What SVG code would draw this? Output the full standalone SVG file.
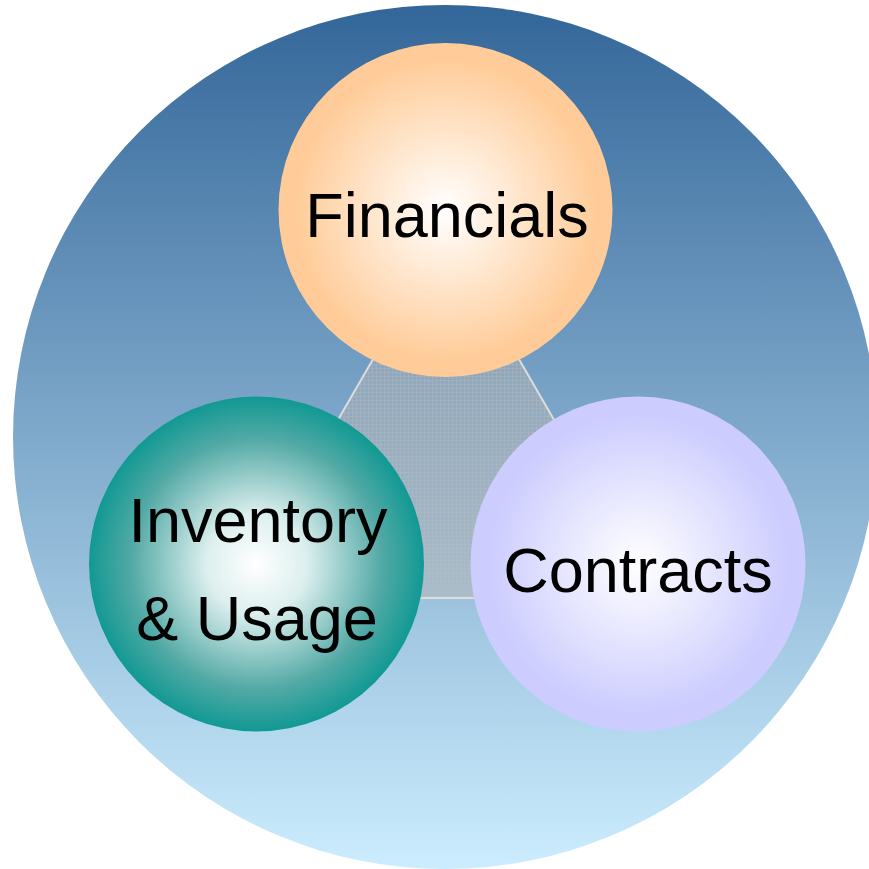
<svg xmlns="http://www.w3.org/2000/svg" width="869" height="869" viewBox="0 0 869 869">
  <defs>
    <linearGradient id="bg" x1="0" y1="0" x2="0" y2="1">
      <stop offset="0" stop-color="#336699"/>
      <stop offset="1" stop-color="#ccedfe"/>
    </linearGradient>
    <radialGradient id="gFin" cx="0.5" cy="0.5" r="0.5">
      <stop offset="0" stop-color="#ffffff"/>
      <stop offset="0.9" stop-color="#ffcc99"/>
    </radialGradient>
    <radialGradient id="gInv" cx="0.5" cy="0.5" r="0.5">
      <stop offset="0" stop-color="#ffffff"/>
      <stop offset="0.3" stop-color="#dcefee"/>
      <stop offset="0.75" stop-color="#52a9a5"/>
      <stop offset="1" stop-color="#119993"/>
    </radialGradient>
    <radialGradient id="gCon" cx="0.5" cy="0.5" r="0.5">
      <stop offset="0" stop-color="#ffffff"/>
      <stop offset="0.9" stop-color="#ccccff"/>
    </radialGradient>
    <pattern id="grid" width="8" height="8" patternUnits="userSpaceOnUse">
      <rect width="8" height="8" fill="#b4b4b4" fill-opacity="0.4"/>
      <path d="M0 0.5H8M0.5 0V8M0 4.5H8M4.5 0V8" stroke="#c8b8b0" stroke-opacity="0.55" stroke-width="0.6" fill="none"/>
    </pattern>
    <style>
      .lbl { font-family: "Liberation Sans", Arial, sans-serif; font-size: 63px; fill: #000; text-anchor: middle; }
    </style>
  </defs>
  <rect width="869" height="869" fill="#ffffff"/>
  <g id="background">
    <circle cx="445" cy="437" r="432" fill="url(#bg)"/>
  </g>
  <g id="connectors">
    <polygon points="446,233 235,598 657,598" fill="url(#grid)" stroke="#dcdcdc" stroke-width="2"/>
  </g>
  <g id="financials">
    <circle cx="445.5" cy="210" r="167" fill="url(#gFin)"/>
    <text class="lbl" x="447" y="237">Financials</text>
  </g>
  <g id="inventory">
    <circle cx="256.5" cy="564" r="167.5" fill="url(#gInv)"/>
    <text class="lbl" x="258" y="542">Inventory</text>
    <text class="lbl" x="257" y="640">&amp; Usage</text>
  </g>
  <g id="contracts">
    <circle cx="638" cy="564" r="167.5" fill="url(#gCon)"/>
    <text class="lbl" x="638" y="592">Contracts</text>
  </g>
</svg>
